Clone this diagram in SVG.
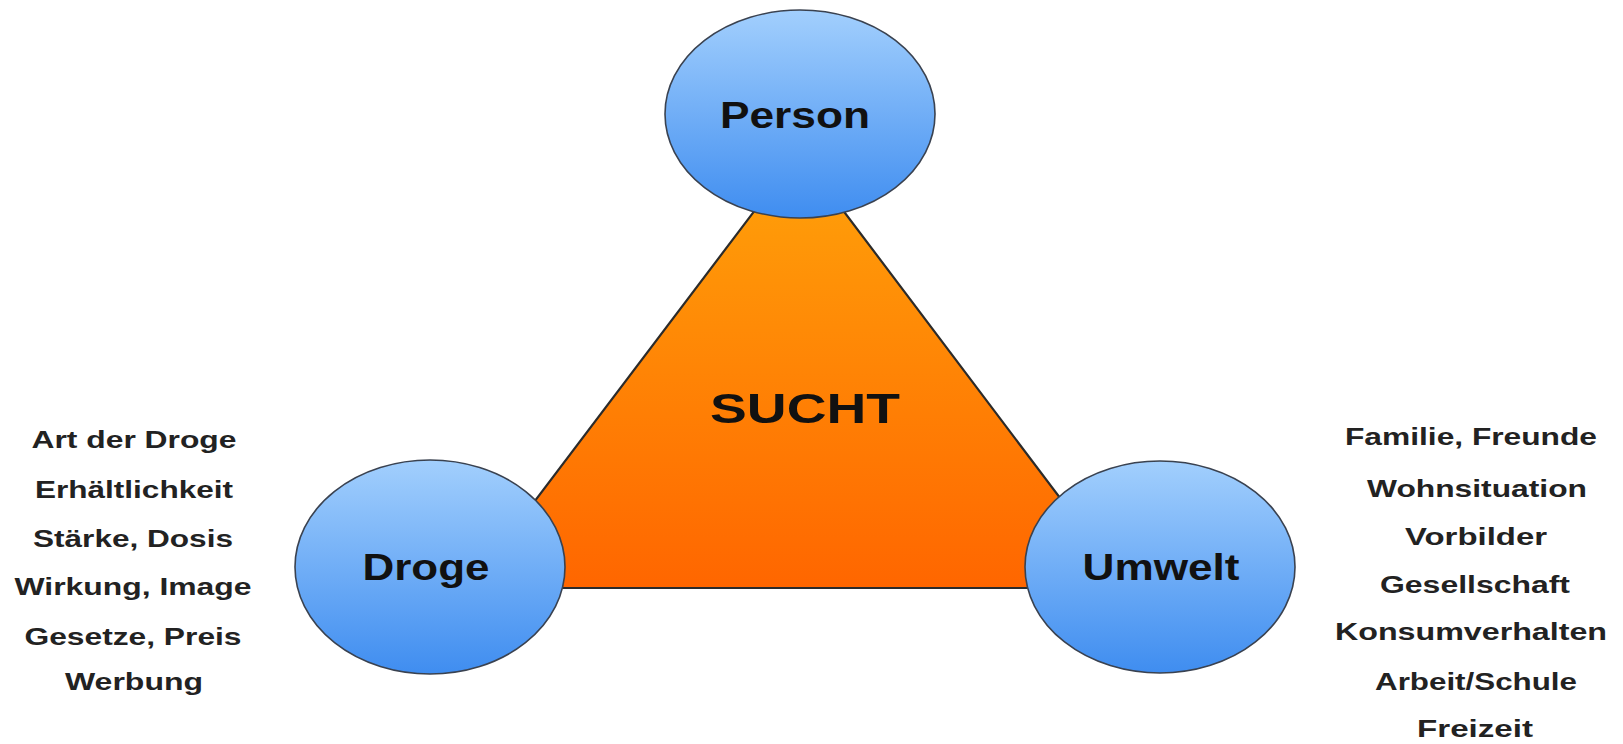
<svg xmlns="http://www.w3.org/2000/svg" width="1623" height="744" viewBox="0 0 1623 744">
  <defs>
    <linearGradient id="gradTriangle" x1="0" y1="0" x2="0" y2="1">
      <stop offset="0" stop-color="#FFA30A"/>
      <stop offset="1" stop-color="#FF6600"/>
    </linearGradient>
    <linearGradient id="gradNode" x1="0" y1="0" x2="0" y2="1">
      <stop offset="0" stop-color="#A2CFFD"/>
      <stop offset="1" stop-color="#3F8DF0"/>
    </linearGradient>
  </defs>
  <style>
    .node { fill: url(#gradNode); stroke: #3a4250; stroke-width: 1.6; }
    .label { font-family: "Liberation Sans", Arial, sans-serif; font-weight: bold; fill: #111111; text-anchor: middle; }
    .node-label { font-size: 36px; }
    .list { font-family: "Liberation Sans", Arial, sans-serif; font-weight: bold; fill: #222222; font-size: 23px; text-anchor: middle; }
  </style>
  <rect width="1623" height="744" fill="#ffffff"/>

  <!-- central triangle linking the three factors -->
  <g id="connectors">
    <polygon points="799,152 469,588 1128,588" fill="url(#gradTriangle)" stroke="#2b2b2b" stroke-width="2.2" stroke-linejoin="round"/>
  </g>

  <g id="sucht">
    <text class="label" x="805" y="423" font-size="42" textLength="190" lengthAdjust="spacingAndGlyphs">SUCHT</text>
  </g>

  <g id="node-person">
    <ellipse class="node" cx="800" cy="114" rx="135" ry="104"/>
    <text class="label node-label" x="795" y="128" textLength="150" lengthAdjust="spacingAndGlyphs">Person</text>
  </g>

  <g id="node-droge">
    <ellipse class="node" cx="430" cy="567" rx="135" ry="107"/>
    <text class="label node-label" x="426" y="580" textLength="127" lengthAdjust="spacingAndGlyphs">Droge</text>
  </g>

  <g id="node-umwelt">
    <ellipse class="node" cx="1160" cy="567" rx="135" ry="106"/>
    <text class="label node-label" x="1161" y="580" textLength="157" lengthAdjust="spacingAndGlyphs">Umwelt</text>
  </g>

  <!-- factors of the drug -->
  <g id="list-droge">
    <text class="list" x="134" y="448" textLength="205" lengthAdjust="spacingAndGlyphs">Art der Droge</text>
    <text class="list" x="134" y="498" textLength="198" lengthAdjust="spacingAndGlyphs">Erhältlichkeit</text>
    <text class="list" x="133" y="547" textLength="200" lengthAdjust="spacingAndGlyphs">Stärke, Dosis</text>
    <text class="list" x="133" y="595" textLength="237" lengthAdjust="spacingAndGlyphs">Wirkung, Image</text>
    <text class="list" x="133" y="645" textLength="217" lengthAdjust="spacingAndGlyphs">Gesetze, Preis</text>
    <text class="list" x="134" y="690" textLength="138" lengthAdjust="spacingAndGlyphs">Werbung</text>
  </g>

  <!-- factors of the environment -->
  <g id="list-umwelt">
    <text class="list" x="1471" y="445" textLength="252" lengthAdjust="spacingAndGlyphs">Familie, Freunde</text>
    <text class="list" x="1477" y="497" textLength="220" lengthAdjust="spacingAndGlyphs">Wohnsituation</text>
    <text class="list" x="1476" y="545" textLength="142" lengthAdjust="spacingAndGlyphs">Vorbilder</text>
    <text class="list" x="1475" y="593" textLength="190" lengthAdjust="spacingAndGlyphs">Gesellschaft</text>
    <text class="list" x="1471" y="640" textLength="272" lengthAdjust="spacingAndGlyphs">Konsumverhalten</text>
    <text class="list" x="1476" y="690" textLength="202" lengthAdjust="spacingAndGlyphs">Arbeit/Schule</text>
    <text class="list" x="1475" y="737" textLength="116" lengthAdjust="spacingAndGlyphs">Freizeit</text>
  </g>
</svg>
